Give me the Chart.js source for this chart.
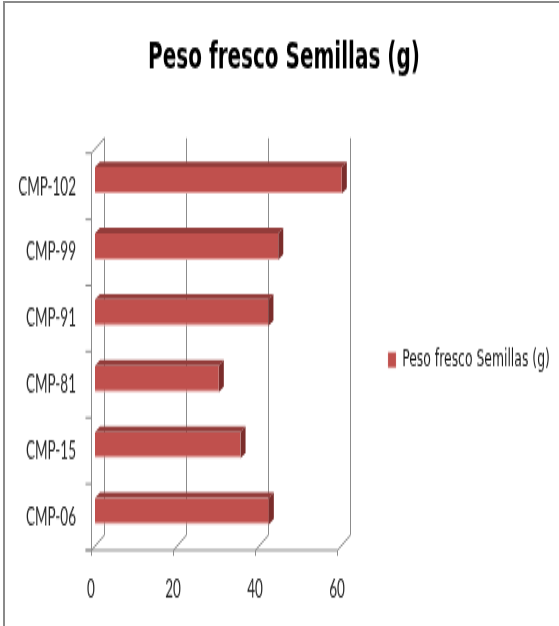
<!DOCTYPE html>
<html>
<head>
<meta charset="utf-8">
<script src="https://cdn.jsdelivr.net/npm/chart.js@4.4.1/dist/chart.umd.min.js"></script>
<style>
  html, body { margin: 0; padding: 0; background: #fff; overflow: hidden; width: 559px; height: 626px; }
  #frame { position: absolute; left: 3px; top: 1px; width: 700px; height: 800px;
           border-top: 2px solid #8a8a8a; border-left: 2px solid #8a8a8a; }
  #wrap { position: absolute; left: 0; top: 0; width: 559px; height: 330px;
          transform: scaleY(1.897); transform-origin: 0 0; }
  #c { display: block; width: 559px; height: 330px; }
</style>
</head>
<body>
<div id="frame"></div>
<div id="wrap"><canvas id="c" width="559" height="330"></canvas></div>
<script>
// Seed fresh weight per line (g), bottom to top
const categories = ['CMP-06', 'CMP-15', 'CMP-81', 'CMP-91', 'CMP-99', 'CMP-102'];
const pesoFresco = [42.4, 35.5, 30.2, 42.3, 44.7, 60.2];
const xTickValues = [0, 20, 40, 60];
const seriesName = 'Peso fresco Semillas (g)';
const chartTitle = 'Peso fresco Semillas (g)';

// canvas is drawn at 330px high and stretched to the 626px page
const STRETCH = 626 / 330;
const wallDepth = { dx: 13, dy: -15 / STRETCH };   // front plane -> back wall
const barShift  = { dx: 4,  dy: -5.8 / STRETCH };  // bars sit slightly behind the front plane
const barDepth  = { dx: 5,  dy: -5.5 / STRETCH };  // thickness of each bar
const gridColor = '#8c8c8c';
const target = { top: 80.7, right: 337, left: 91, titleCenter: 284 };

// pseudo-3D walls, floor and axis ticks, then the bar extrusions
const frame3d = {
  id: 'frame3d',
  beforeDatasetsDraw(chart) {
    const { ctx } = chart;
    const xs = chart.scales.x, ys = chart.scales.y;
    const top = ys.top, bottom = ys.bottom;
    const x0 = xs.getPixelForValue(xs.min);
    const x1 = xs.getPixelForValue(xs.max);
    ctx.save();
    ctx.strokeStyle = gridColor;
    ctx.lineWidth = 1;
    ctx.beginPath();
    xs.ticks.forEach(t => {
      const x = Math.round(xs.getPixelForValue(t.value)) + 0.5;
      ctx.moveTo(x + wallDepth.dx, top + wallDepth.dy);
      ctx.lineTo(x + wallDepth.dx, bottom + wallDepth.dy);
      ctx.moveTo(x, bottom);
      ctx.lineTo(x + wallDepth.dx, bottom + wallDepth.dy);
      ctx.moveTo(x, bottom);
      ctx.lineTo(x, bottom + 3);
    });
    const xl = Math.round(x0) + 0.5;
    ctx.moveTo(xl, top);
    ctx.lineTo(xl + wallDepth.dx, top + wallDepth.dy);
    ctx.moveTo(xl, top);
    ctx.lineTo(xl, bottom);
    ctx.moveTo(xl - 6, bottom);
    ctx.lineTo(Math.round(x1) + 0.5, bottom);
    const n = ys.ticks.length;
    for (let i = 0; i <= n; i++) {
      const y = top + i * (bottom - top) / n;
      ctx.moveTo(xl - 6, y);
      ctx.lineTo(xl, y);
    }
    ctx.stroke();
    ctx.restore();
    ctx.save();
    ctx.translate(barShift.dx, barShift.dy);
  },
  afterDatasetsDraw(chart) {
    const ctx = chart.ctx;
    chart.getDatasetMeta(0).data.forEach(bar => {
      const { x, y, base, height } = bar.getProps(['x', 'y', 'base', 'height'], true);
      const yt = y - height / 2, yb = y + height / 2;
      ctx.fillStyle = '#933C3A';
      ctx.beginPath();
      ctx.moveTo(base, yt);
      ctx.lineTo(x, yt);
      ctx.lineTo(x + barDepth.dx, yt + barDepth.dy);
      ctx.lineTo(base + barDepth.dx, yt + barDepth.dy);
      ctx.closePath();
      ctx.fill();
      ctx.fillStyle = '#7B2D2B';
      ctx.beginPath();
      ctx.moveTo(x, yt);
      ctx.lineTo(x + barDepth.dx, yt + barDepth.dy);
      ctx.lineTo(x + barDepth.dx, yb + barDepth.dy);
      ctx.lineTo(x, yb);
      ctx.closePath();
      ctx.fill();
    });
    ctx.restore();
  }
};

Chart.defaults.font.family = 'Lato';

const opts = {
  responsive: false,
  animation: false,
  devicePixelRatio: 1,
  indexAxis: 'y',
  layout: { padding: { left: 8, right: -1, top: 0, bottom: 0 } },
  scales: {
    x: {
      min: 0, max: 60,
      afterBuildTicks(s) { s.ticks = xTickValues.map(v => ({ value: v })); },
      ticks: { padding: 12.5, color: '#262626', font: { size: 13.5 } },
      grid: { display: false, drawTicks: false },
      border: { display: false },
      afterFit(s) { s.height = 40; }
    },
    y: {
      reverse: true,
      ticks: { padding: 15, color: '#262626', font: { size: 13.5 } },
      grid: { display: false, drawTicks: false },
      border: { display: false },
      afterFit(s) { s.width = target.left - opts.layout.padding.left; }
    }
  },
  plugins: {
    title: {
      display: true, text: chartTitle, color: '#000',
      font: { family: 'DejaVu Sans', size: 20, weight: 'bold' },
      padding: { top: 18.5, bottom: 38 }
    },
    legend: {
      position: 'right',
      fullSize: false,
      maxWidth: 260,
      title: { display: true, text: ' ', font: { size: 7.33 }, padding: 0 },
      labels: { boxWidth: 8, boxHeight: 8, padding: 51, color: '#1a1a1a',
                font: { family: 'DejaVu Sans', size: 12.4 } }
    },
    tooltip: { enabled: false }
  }
};

const chart = new Chart(document.getElementById('c'), {
  type: 'bar',
  data: {
    labels: categories,
    datasets: [{
      label: seriesName,
      data: pesoFresco,
      backgroundColor: '#C0504D',
      borderColor: '#E4A4A2',
      borderWidth: { top: 0, right: 0, bottom: 1, left: 0 },
      borderSkipped: false,
      barPercentage: 0.8,
      categoryPercentage: 0.5,
      clip: false
    }]
  },
  options: opts,
  plugins: [frame3d]
});

// settle the plot area on its intended edges, keeping the title centred
for (let i = 0; i < 5; i++) {
  const a = chart.chartArea;
  const p = opts.layout.padding;
  const dTop = target.top - a.top;
  const dRight = a.right - target.right;
  if (Math.abs(dTop) < 0.2 && Math.abs(dRight) < 0.2) break;
  opts.plugins.title.padding.bottom += dTop;
  p.right += dRight;
  p.left = Math.max(0, Math.min(12, 2 * target.titleCenter - chart.width + p.right));
  chart.update('none');
}
</script>
</body>
</html>
